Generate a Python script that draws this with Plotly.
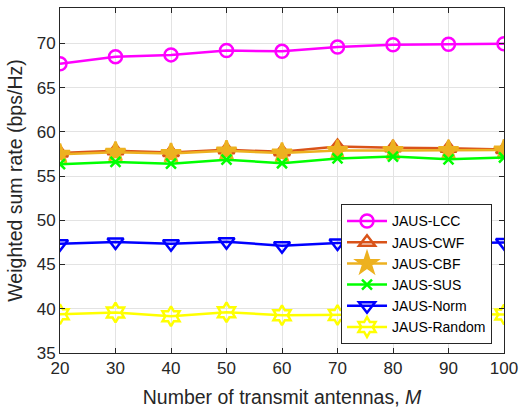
import plotly.graph_objects as go

M = [20, 30, 40, 50, 60, 70, 80, 90, 100]
lcc = [67.7, 68.5, 68.7, 69.2, 69.1, 69.6, 69.85, 69.9, 69.95]
cwf = [57.6, 57.85, 57.67, 57.97, 57.74, 58.35, 58.2, 58.15, 58.0]
cbf = [57.48, 57.7, 57.55, 57.85, 57.6, 57.9, 57.9, 57.9, 57.95]
sus = [56.35, 56.6, 56.4, 56.85, 56.45, 57.0, 57.2, 56.9, 57.1]
norm = [47.36, 47.54, 47.36, 47.58, 47.13, 47.43, 47.5, 47.4, 47.5]
rnd = [39.38, 39.57, 39.15, 39.6, 39.27, 39.3, 39.4, 39.4, 39.35]

series = [
    ("JAUS-LCC", lcc, "#FF00FF", "circle-open", 13),
    ("JAUS-CWF", cwf, "#D95319", "triangle-up-open", 14),
    ("JAUS-CBF", cbf, "#EDB120", "star", 15),
    ("JAUS-SUS", sus, "#00FF00", "x-thin-open", 10),
    ("JAUS-Norm", norm, "#0000FF", "triangle-down-open", 14),
    ("JAUS-Random", rnd, "#FFFF00", "hexagram-open", 15),
]

fig = go.Figure()
for name, vals, col, sym, sz in series:
    fig.add_trace(go.Scatter(
        x=M, y=vals, name=name, mode="lines+markers",
        line=dict(color=col, width=2.5),
        marker=dict(symbol=sym, size=sz, color=col,
                    line=dict(color=col, width=2.5)),
    ))

axis_common = dict(
    showline=True, linecolor="#262626", linewidth=1, mirror="ticks",
    ticks="inside", ticklen=5, tickcolor="#262626",
    showgrid=True, gridcolor="#E3E3E3", gridwidth=1, zeroline=False,
    tickfont=dict(family="Liberation Sans, Arial", size=17, color="#262626"),
)

fig.update_layout(
    width=525, height=411,
    margin=dict(l=60, r=16, t=7, b=58),
    paper_bgcolor="white", plot_bgcolor="white",
    font=dict(family="Liberation Sans, Arial", color="#262626"),
    xaxis=dict(range=[20, 100], tickvals=[20, 30, 40, 50, 60, 70, 80, 90, 100],
               title=dict(text="Number of transmit antennas, <i>M</i>",
                          font=dict(size=19.5), standoff=12),
               **axis_common),
    yaxis=dict(range=[35, 74], tickvals=[35, 40, 45, 50, 55, 60, 65, 70],
               title=dict(text="Weighted sum rate (bps/Hz)", font=dict(size=19.5),
                          standoff=8),
               **axis_common),
    legend=dict(x=0.973, y=0.025, xanchor="right", yanchor="bottom",
                bgcolor="white", bordercolor="#262626", borderwidth=1,
                font=dict(size=14, color="black"), tracegroupgap=0,
                itemsizing="trace", itemwidth=40),
    showlegend=True,
)

fig.write_html("out.html")
